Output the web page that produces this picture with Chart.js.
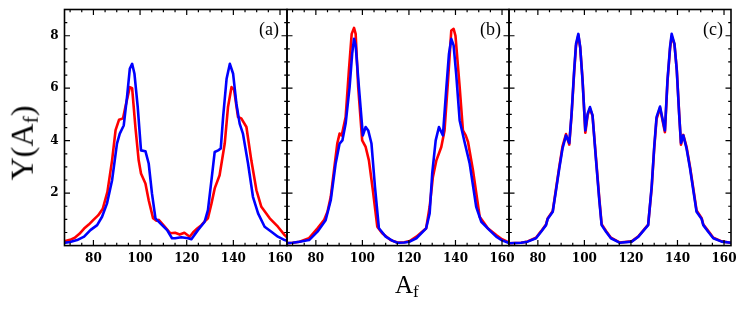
<!DOCTYPE html>
<html>
<head>
<meta charset="utf-8">
<script src="https://cdn.jsdelivr.net/npm/chart.js@4.4.1/dist/chart.umd.min.js"></script>
<style>
  html, body { margin: 0; padding: 0; background: #fff; }
  #wrap { position: relative; width: 747px; height: 312px; overflow: hidden; }
  #wrap canvas { position: absolute; left: 0; top: 0; }
  .axis-title { position: absolute; font-family: 'Liberation Serif', serif; color: #000; white-space: nowrap; line-height: 1; }
  .axis-title sub { font-size: 0.68em; vertical-align: -0.22em; }
  #ytitle { font-size: 32px; left: 24px; top: 143px; transform: translate(-50%, -50%) rotate(-90deg); }
  #xtitle { font-size: 25px; left: 395px; top: 272px; }
</style>
</head>
<body>
<div id="wrap">
  <canvas id="chart-a" width="747" height="312"></canvas>
  <canvas id="chart-b" width="747" height="312"></canvas>
  <canvas id="chart-c" width="747" height="312"></canvas>
  <div class="axis-title" id="ytitle">Y(A<sub>f</sub>)</div>
  <div class="axis-title" id="xtitle">A<sub>f</sub></div>
</div>
<script>
// 축 눈금
const xTicks = [80, 100, 120, 140, 160];
const yTicks = [2, 4, 6, 8];

// (a)
const aRedX = [67, 70, 72, 74, 76, 78, 80, 82, 84, 86, 88, 89.5, 91, 92.7, 93.7, 95.6, 96.6, 98, 99.4, 100.4, 102.3, 103.7, 105.6, 107, 108, 110, 113, 115, 117, 119, 121.3, 122.7, 124.5, 126.3, 128, 129.1, 130.6, 132, 134.1, 136.3, 137.7, 139.2, 140.3, 142, 143.4, 145.6, 147.7, 149.9, 152, 155.6, 159.1, 162, 163];
const aRedY = [0.15, 0.22, 0.3, 0.45, 0.65, 0.8, 0.98, 1.15, 1.4, 2.05, 3.25, 4.4, 4.8, 4.85, 5.28, 6.04, 6.0, 4.52, 3.25, 2.75, 2.37, 1.73, 1.04, 0.95, 0.98, 0.78, 0.47, 0.49, 0.42, 0.49, 0.34, 0.5, 0.65, 0.78, 0.95, 1.04, 1.6, 2.18, 2.68, 3.89, 5.28, 6.04, 5.95, 4.9, 4.85, 4.52, 3.25, 2.11, 1.48, 1.04, 0.72, 0.4, 0.32];
const aBlueX = [67, 70, 73, 76, 78.7, 81.6, 83.7, 85.8, 88, 90.1, 91.3, 93, 94.4, 95.6, 96.6, 97.6, 99, 100.4, 102.3, 103.7, 105.1, 106.6, 108.7, 111.6, 113.7, 115, 117.7, 120.6, 122, 124.8, 127.7, 129.1, 130.6, 132, 133.5, 134.6, 135.6, 137.1, 138.5, 139.9, 141.3, 142.7, 144.1, 146.3, 148.4, 150.6, 153.4, 156.3, 159.1, 162, 163];
const aBlueY = [0.1, 0.14, 0.21, 0.34, 0.59, 0.78, 1.1, 1.6, 2.49, 3.89, 4.27, 4.58, 5.66, 6.74, 6.93, 6.55, 5.28, 3.63, 3.6, 3.13, 1.99, 1.04, 0.85, 0.59, 0.28, 0.28, 0.32, 0.28, 0.24, 0.59, 0.91, 1.35, 2.49, 3.57, 3.63, 3.7, 4.9, 6.36, 6.93, 6.55, 5.41, 4.65, 4.27, 3.13, 1.86, 1.23, 0.72, 0.53, 0.34, 0.21, 0.18];

// (b)
const bRedX = [67, 70, 73, 77, 80.7, 83.5, 85, 86.4, 87.8, 89.2, 90.2, 91.1, 92.8, 94.2, 95.4, 96.4, 97.1, 98.2, 99.9, 101.4, 102.8, 104.5, 106.4, 108.5, 112.1, 115, 118, 120.3, 123.2, 127.4, 128.9, 130.3, 131.8, 133.9, 135.3, 136.8, 138.2, 139.2, 140, 141.8, 143.2, 144.4, 145.4, 147.5, 150.4, 153.9, 157.5, 160, 163];
const bRedY = [0.09, 0.11, 0.15, 0.28, 0.66, 0.97, 1.29, 1.86, 2.88, 3.89, 4.27, 4.2, 4.9, 6.68, 8.07, 8.3, 8.07, 6.04, 4.01, 3.76, 3.25, 2.11, 0.72, 0.47, 0.21, 0.12, 0.13, 0.17, 0.34, 0.66, 1.48, 2.62, 3.25, 3.76, 4.39, 6.3, 8.2, 8.26, 8.0, 6.04, 4.39, 4.2, 3.95, 2.88, 1.1, 0.66, 0.4, 0.24, 0.12];
const bBlueX = [67, 70, 73, 77.1, 80.7, 84.2, 86.4, 88.5, 90.2, 91.4, 92.8, 94.5, 95.6, 96.4, 97.1, 98.5, 100.2, 101.4, 102.5, 103.9, 105.4, 107.1, 110, 113, 115.1, 118, 120.3, 123.2, 127.4, 128.9, 130, 131.5, 132.9, 133.9, 134.6, 136.1, 137.2, 138.2, 139.2, 140.3, 141.8, 143.9, 146.1, 148.9, 151.1, 154.6, 157.5, 160, 163];
const bBlueY = [0.09, 0.11, 0.15, 0.21, 0.53, 0.97, 1.73, 3.13, 3.89, 4.01, 4.65, 6.04, 7.31, 7.88, 7.63, 6.04, 4.2, 4.52, 4.39, 3.89, 2.24, 0.66, 0.34, 0.18, 0.11, 0.12, 0.15, 0.28, 0.66, 1.23, 2.75, 4.01, 4.52, 4.33, 4.2, 6.04, 7.31, 7.88, 7.63, 6.55, 4.77, 3.95, 3.13, 1.48, 0.91, 0.59, 0.34, 0.2, 0.1];

// (c)
const cRedX = [67, 72.8, 75.6, 79.2, 81.4, 83.5, 84.2, 86.4, 87.8, 89.2, 90.6, 92.1, 93.5, 94.5, 95.6, 96.4, 97.4, 98.2, 99.2, 100.4, 101.4, 102.4, 103.5, 105, 106.4, 107.4, 109.3, 111.4, 115.1, 120.3, 123.2, 127.4, 128.9, 130, 131, 132.5, 133.4, 134.6, 135.7, 136.8, 137.5, 138.7, 139.7, 140.7, 141.5, 142.5, 143.9, 145.4, 146.8, 148.2, 150.4, 151.1, 153.2, 155.4, 159, 163];
const cRedY = [0.09, 0.11, 0.16, 0.3, 0.55, 0.8, 1.03, 1.32, 2.16, 3.0, 3.78, 4.25, 3.85, 5.0, 6.6, 7.62, 8.02, 7.55, 6.35, 4.3, 4.98, 5.22, 4.95, 3.32, 1.8, 0.82, 0.56, 0.3, 0.12, 0.16, 0.35, 0.8, 2.18, 3.7, 4.82, 5.25, 4.85, 4.32, 6.25, 7.5, 7.98, 7.68, 6.7, 5.08, 3.85, 4.22, 3.76, 3.0, 2.18, 1.34, 1.04, 0.8, 0.56, 0.3, 0.16, 0.11];
const cBlueX = [67, 72.8, 75.6, 79.2, 81.4, 83.5, 84.2, 86.4, 87.8, 89.2, 90.6, 92.1, 93.5, 94.5, 95.6, 96.4, 97.4, 98.2, 99.2, 100.4, 101.4, 102.4, 103.5, 105, 106.4, 107.4, 109.3, 111.4, 115.1, 120.3, 123.2, 127.4, 128.9, 130, 131, 132.5, 133.4, 134.6, 135.7, 136.8, 137.5, 138.7, 139.7, 140.7, 141.5, 142.5, 143.9, 145.4, 146.8, 148.2, 150.4, 151.1, 153.2, 155.4, 159, 163];
const cBlueY = [0.09, 0.11, 0.15, 0.28, 0.53, 0.78, 1.01, 1.29, 2.11, 2.94, 3.7, 4.2, 3.91, 5.03, 6.68, 7.69, 8.07, 7.56, 6.3, 4.39, 5.03, 5.28, 4.96, 3.25, 1.73, 0.78, 0.53, 0.28, 0.11, 0.15, 0.34, 0.78, 2.24, 3.76, 4.9, 5.3, 4.9, 4.39, 6.3, 7.56, 8.07, 7.69, 6.68, 5.03, 3.91, 4.2, 3.7, 2.94, 2.11, 1.29, 1.01, 0.78, 0.53, 0.28, 0.15, 0.11];

const X_MIN = 67.6, X_MAX = 163;
const Y_MIN = 0, Y_MAX = 9;
const PLOT_TOP = 9.5, PLOT_BOTTOM = 245.6;
const Y_AXIS_W = 40, X_AXIS_H = 30;

const panels = [
    { id: 'chart-a', tag: '(a)', left: 64.5, right: 287, showY: true, red: [aRedX, aRedY], blue: [aBlueX, aBlueY] },
    { id: 'chart-b', tag: '(b)', left: 287, right: 509, showY: false, red: [bRedX, bRedY], blue: [bBlueX, bBlueY] },
    { id: 'chart-c', tag: '(c)', left: 509, right: 731, showY: false, red: [cRedX, cRedY], blue: [cBlueX, cBlueY] }
];

function toPoints(xs, ys) {
    return xs.map((x, i) => ({ x: x, y: ys[i] }));
}

function range(start, end, step) {
    const out = [];
    for (let v = start; v <= end + 1e-9; v += step) out.push(+v.toFixed(3));
    return out;
}

// 테두리 + 안쪽 눈금 + 패널 라벨
const framePlugin = {
    id: 'frame',
    afterDraw(chart, args, opts) {
        const { ctx, chartArea: a, scales } = chart;
        const xs = scales.x, ys = scales.y;
        ctx.save();
        ctx.strokeStyle = '#000';
        ctx.lineWidth = 1.2;

        const xMinor = range(70, 160, 5);
        const yMinor = range(0.5, 8.5, 0.5);
        ctx.beginPath();
        xMinor.forEach(v => {
            const len = v % 20 === 0 ? 5.5 : 2.8;
            const px = xs.getPixelForValue(v);
            ctx.moveTo(px, a.bottom); ctx.lineTo(px, a.bottom - len);
            ctx.moveTo(px, a.top); ctx.lineTo(px, a.top + len);
        });
        yMinor.forEach(v => {
            const len = v % 2 === 0 ? 5.5 : 2.8;
            const py = ys.getPixelForValue(v);
            ctx.moveTo(a.left, py); ctx.lineTo(a.left + len, py);
            ctx.moveTo(a.right, py); ctx.lineTo(a.right - len, py);
        });
        ctx.stroke();

        ctx.lineWidth = 1.6;
        ctx.strokeRect(a.left, a.top, a.right - a.left, a.bottom - a.top);

        ctx.fillStyle = '#000';
        ctx.font = '18px "Liberation Serif", serif';
        ctx.textAlign = 'right';
        ctx.textBaseline = 'middle';
        ctx.fillText(opts.tag, a.right - 8, a.top + 21);
        ctx.restore();
    }
};

function makeChart(p) {
    const ctx = document.getElementById(p.id).getContext('2d');
    const yW = p.showY ? Y_AXIS_W : 0;
    return new Chart(ctx, {
        type: 'line',
        data: {
            datasets: [
                {
                    label: 'blue',
                    data: toPoints(p.blue[0], p.blue[1]),
                    borderColor: '#0000ff',
                    borderWidth: 2.6,
                    order: 0
                },
                {
                    label: 'red',
                    data: toPoints(p.red[0], p.red[1]),
                    borderColor: '#ff0000',
                    borderWidth: 2.6,
                    order: 1
                }
            ]
        },
        options: {
            responsive: false,
            animation: false,
            events: [],
            elements: {
                point: { radius: 0 },
                line: { tension: 0, borderJoinStyle: 'round', borderCapStyle: 'round' }
            },
            layout: {
                padding: {
                    left: p.left - yW,
                    right: 747 - p.right,
                    top: PLOT_TOP,
                    bottom: 312 - PLOT_BOTTOM - X_AXIS_H
                }
            },
            plugins: {
                legend: { display: false },
                tooltip: { enabled: false },
                frame: { tag: p.tag }
            },
            scales: {
                x: {
                    type: 'linear',
                    min: X_MIN,
                    max: X_MAX,
                    grid: { display: false, drawTicks: false },
                    border: { display: false },
                    afterBuildTicks: s => { s.ticks = xTicks.map(v => ({ value: v })); },
                    afterFit: s => { s.height = X_AXIS_H; s.paddingLeft = 0; s.paddingRight = 0; },
                    ticks: {
                        padding: 6,
                        maxRotation: 0,
                        autoSkip: false,
                        color: '#000',
                        font: { family: '"DejaVu Serif", serif', weight: 'bold', size: 12 }
                    }
                },
                y: {
                    type: 'linear',
                    min: Y_MIN,
                    max: Y_MAX,
                    grid: { display: false, drawTicks: false },
                    border: { display: false },
                    afterBuildTicks: s => { s.ticks = yTicks.map(v => ({ value: v })); },
                    afterFit: s => { s.width = yW; s.paddingTop = 0; s.paddingBottom = 0; },
                    ticks: {
                        display: p.showY,
                        padding: 6,
                        autoSkip: false,
                        color: '#000',
                        font: { family: '"DejaVu Serif", serif', weight: 'bold', size: 12 }
                    }
                }
            }
        },
        plugins: [framePlugin]
    });
}

panels.forEach(makeChart);
</script>
</body>
</html>
